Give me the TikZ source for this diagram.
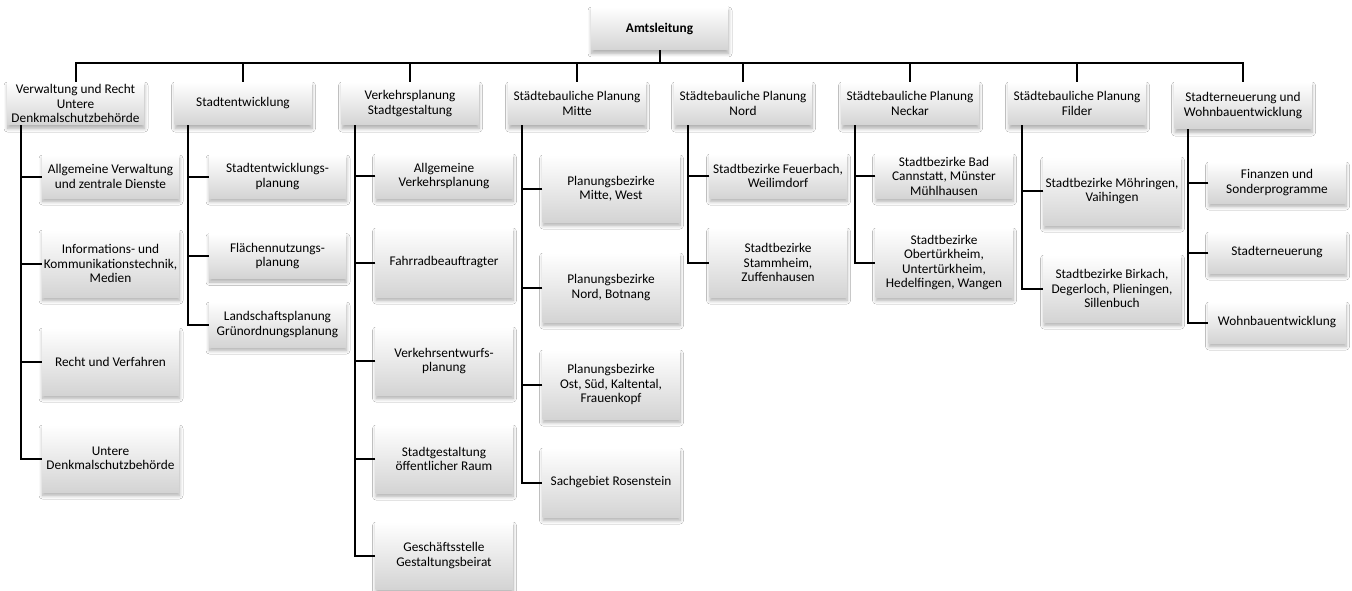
\documentclass[tikz,border=0pt]{standalone}
\usepackage{fontspec}
\setmainfont{Carlito}
\usetikzlibrary{shadows.blur}
\tikzset{
  box/.style={
    top color=white, bottom color=black!17, draw=none,
    blur shadow={shadow xshift=0.5pt, shadow yshift=-3.5pt, shadow blur radius=3.5pt,
                 shadow blur steps=8, shadow opacity=32},
    minimum width=137pt, inner sep=0pt, align=center,
    font=\fontsize{13.3pt}{14.5pt}\selectfont
  },
  conn/.style={line width=2pt, black}
}
\begin{document}
\begin{tikzpicture}[x=1pt, y=-1pt]
\fill[white] (0,0) rectangle (1352,591);
\useasboundingbox (0,0) rectangle (1352,591);

% head of office
\node[box, minimum height=43pt, font=\fontsize{13.3pt}{14.5pt}\selectfont\bfseries] (top) at (659.5,28.5) {Amtsleitung};

% departments
\node[box, minimum height=43pt] (v1) at (75.5,103.5) {Verwaltung und Recht\\Untere\\Denkmalschutzbehörde};
\node[box, minimum height=43pt] (v2) at (243,103.5) {Stadtentwicklung};
\node[box, minimum height=43pt] (v3) at (410,103.5) {Verkehrsplanung\\Stadtgestaltung};
\node[box, minimum height=43pt] (v4) at (577,103.5) {Städtebauliche Planung\\Mitte};
\node[box, minimum height=43pt] (v5) at (743,103.5) {Städtebauliche Planung\\Nord};
\node[box, minimum height=43pt] (v6) at (910,103.5) {Städtebauliche Planung\\Neckar};
\node[box, minimum height=43pt] (v7) at (1077,103.5) {Städtebauliche Planung\\Filder};
\node[box, minimum height=47pt] (v8) at (1243,105.5) {Stadterneuerung und\\Wohnbauentwicklung};

% bus line
\coordinate (bus) at (0,63);
\draw[conn] (top.south) -- (top.south |- bus);
\draw[conn] (v1.north) |- (v8.north |- bus) -- (v8.north);
\foreach \n in {v2,v3,v4,v5,v6,v7}
  \draw[conn] (\n.north) -- (\n.north |- bus);

% Verwaltung und Recht
\node[box, minimum height=43pt] (c11) at (110.5,176.5) {Allgemeine Verwaltung\\und zentrale Dienste};
\node[box, minimum height=67pt] (c12) at (110.5,263.5) {Informations- und\\Kommunikationstechnik,\\Medien};
\node[box, minimum height=67pt] (c13) at (110.5,361.5) {Recht und Verfahren};
\node[box, minimum height=67pt] (c14) at (110.5,458.5) {Untere\\Denkmalschutzbehörde};

% Stadtentwicklung
\node[box, minimum height=43pt] (c21) at (277.5,176.5) {Stadtentwicklungs-\\planung};
\node[box, minimum height=45pt] (c22) at (277.5,256) {Flächennutzungs-\\planung};
\node[box, minimum height=45pt] (c23) at (277.5,324.5) {Landschaftsplanung\\Grünordnungsplanung};

% Verkehrsplanung
\node[box, minimum height=44pt] (c31) at (444,176) {Allgemeine\\Verkehrsplanung};
\node[box, minimum height=69pt] (c32) at (444,262.5) {Fahrradbeauftragter};
\node[box, minimum height=68pt] (c33) at (444,361) {Verkehrsentwurfs-\\planung};
\node[box, minimum height=68pt] (c34) at (444,459) {Stadtgestaltung\\öffentlicher Raum};
\node[box, minimum height=67pt] (c35) at (444,555.5) {Geschäftsstelle\\Gestaltungsbeirat};

% Mitte
\node[box, minimum height=67pt] (c41) at (611,188.5) {Planungsbezirke\\Mitte, West};
\node[box, minimum height=69pt] (c42) at (611,287.5) {Planungsbezirke\\Nord, Botnang};
\node[box, minimum height=69pt] (c43) at (611,384.5) {Planungsbezirke\\Ost, Süd, Kaltental,\\Frauenkopf};
\node[box, minimum height=69pt] (c44) at (611,482.5) {Sachgebiet Rosenstein};

% Nord
\node[box, minimum height=44pt] (c51) at (778,176) {Stadtbezirke Feuerbach,\\Weilimdorf};
\node[box, minimum height=69pt] (c52) at (778,262.5) {Stadtbezirke\\Stammheim,\\Zuffenhausen};

% Neckar
\node[box, minimum height=44pt] (c61) at (944,176) {Stadtbezirke Bad\\Cannstatt, Münster\\Mühlhausen};
\node[box, minimum height=69pt] (c62) at (944,262.5) {Stadtbezirke\\Obertürkheim,\\Untertürkheim,\\Hedelfingen, Wangen};

% Filder
\node[box, minimum height=68pt] (c71) at (1112,191) {Stadtbezirke Möhringen,\\Vaihingen};
\node[box, minimum height=67pt] (c72) at (1112,288.5) {Stadtbezirke Birkach,\\Degerloch, Plieningen,\\Sillenbuch};

% Stadterneuerung
\node[box, minimum height=41pt] (c81) at (1277,182.5) {Finanzen und\\Sonderprogramme};
\node[box, minimum height=41pt] (c82) at (1277,252.5) {Stadterneuerung};
\node[box, minimum height=41pt] (c83) at (1277,322.5) {Wohnbauentwicklung};

% trunks from each department to its units
\foreach \p/\last in {v1/c14, v2/c23, v3/c35, v4/c44, v5/c52, v6/c62, v7/c72, v8/c83} {
  \coordinate (t-\p) at ([xshift=14pt]\p.south west);
  \draw[conn] (t-\p) |- (\last.west);
}
\foreach \p/\c in {v1/c11, v1/c12, v1/c13, v2/c21, v2/c22, v3/c31, v3/c32, v3/c33, v3/c34,
                   v4/c41, v4/c42, v4/c43, v5/c51, v6/c61, v7/c71, v8/c81, v8/c82}
  \draw[conn] (\c.west) -- (\c.west -| t-\p);
\end{tikzpicture}
\end{document}
